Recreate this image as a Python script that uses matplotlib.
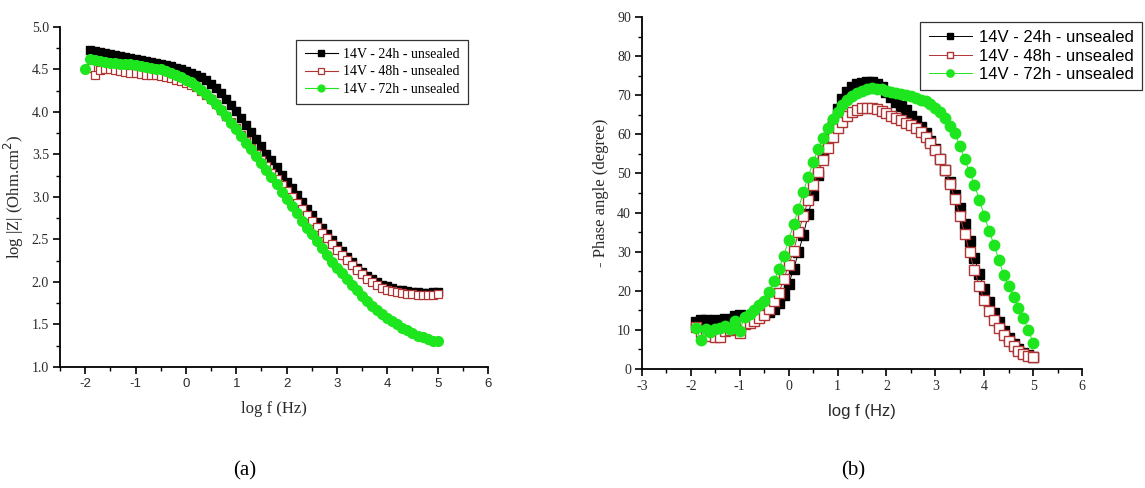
import matplotlib
matplotlib.use("Agg")
import matplotlib.pyplot as plt
from matplotlib.ticker import MultipleLocator, FormatStrFormatter

plt.rcParams["axes.unicode_minus"] = False

# measurement grid, log f (Hz)
log_f = [-1.9, -1.8, -1.7, -1.6, -1.5, -1.4, -1.3, -1.2, -1.1, -1.0,
         -0.9, -0.8, -0.7, -0.6, -0.5, -0.4, -0.3, -0.2, -0.1, 0.0,
         0.1, 0.2, 0.3, 0.4, 0.5, 0.6, 0.7, 0.8, 0.9, 1.0,
         1.1, 1.2, 1.3, 1.4, 1.5, 1.6, 1.7, 1.8, 1.9, 2.0,
         2.1, 2.2, 2.3, 2.4, 2.5, 2.6, 2.7, 2.8, 2.9, 3.0,
         3.1, 3.2, 3.3, 3.4, 3.5, 3.6, 3.7, 3.8, 3.9, 4.0,
         4.1, 4.2, 4.3, 4.4, 4.5, 4.6, 4.7, 4.8, 4.9, 5.0]
log_f_72h_z = [-2.0] + log_f

labels = ["14V - 24h - unsealed", "14V - 48h - unsealed", "14V - 72h - unsealed"]

# (a) log |Z|
z_24h = [4.73, 4.72, 4.70, 4.69, 4.68, 4.67, 4.66, 4.65, 4.63, 4.62,
         4.61, 4.60, 4.59, 4.58, 4.57, 4.55, 4.54, 4.52, 4.50, 4.48,
         4.46, 4.44, 4.41, 4.38, 4.33, 4.28, 4.22, 4.15, 4.08, 4.01,
         3.93, 3.85, 3.77, 3.68, 3.60, 3.51, 3.43, 3.35, 3.26, 3.18,
         3.10, 3.02, 2.94, 2.86, 2.79, 2.71, 2.64, 2.56, 2.49, 2.42,
         2.36, 2.29, 2.23, 2.17, 2.12, 2.07, 2.03, 2.00, 1.97, 1.95,
         1.93, 1.91, 1.90, 1.89, 1.88, 1.88, 1.87, 1.87, 1.88, 1.88]
z_48h = [4.52, 4.44, 4.49, 4.50, 4.50, 4.49, 4.48, 4.47, 4.46, 4.46,
         4.45, 4.44, 4.43, 4.43, 4.42, 4.41, 4.40, 4.38, 4.36, 4.34,
         4.32, 4.29, 4.25, 4.20, 4.15, 4.09, 4.02, 3.95, 3.88, 3.81,
         3.73, 3.66, 3.58, 3.51, 3.43, 3.36, 3.28, 3.21, 3.14, 3.07,
         3.00, 2.93, 2.86, 2.79, 2.72, 2.65, 2.58, 2.52, 2.45, 2.38,
         2.32, 2.26, 2.20, 2.14, 2.09, 2.04, 2.00, 1.96, 1.93, 1.91,
         1.89, 1.88, 1.87, 1.86, 1.86, 1.85, 1.85, 1.85, 1.85, 1.86]
z_72h = [4.50,
         4.62, 4.61, 4.60, 4.59, 4.58, 4.58, 4.57, 4.56, 4.56, 4.55,
         4.54, 4.53, 4.52, 4.51, 4.50, 4.48, 4.46, 4.44, 4.41, 4.38,
         4.35, 4.31, 4.26, 4.21, 4.15, 4.09, 4.02, 3.95, 3.87, 3.80,
         3.72, 3.64, 3.56, 3.48, 3.40, 3.32, 3.23, 3.15, 3.06, 2.98,
         2.89, 2.81, 2.72, 2.64, 2.56, 2.48, 2.40, 2.32, 2.24, 2.17,
         2.10, 2.03, 1.96, 1.90, 1.84, 1.78, 1.72, 1.67, 1.62, 1.58,
         1.54, 1.50, 1.46, 1.43, 1.40, 1.37, 1.35, 1.33, 1.31, 1.31]

# (b) - phase angle (degree)
ph_24h = [12.0, 12.6, 12.4, 12.0, 12.6, 12.2, 12.9, 12.5, 13.5, 13.8,
          13.2, 13.0, 13.3, 13.6, 14.0, 14.6, 15.3, 16.8, 19.0, 21.8,
          25.5, 29.8, 34.3, 39.5, 44.5, 49.5, 54.5, 59.0, 63.0, 66.5,
          69.0, 70.8, 72.0, 72.8, 73.2, 73.4, 73.3, 72.9, 72.0, 70.8,
          69.5, 68.3, 67.2, 66.2, 64.8, 63.3, 61.8, 60.3, 58.3, 56.3,
          53.8, 51.0, 47.8, 44.5, 41.2, 37.0, 32.8, 28.5, 24.3, 20.5,
          17.2, 14.3, 12.0, 9.8, 8.0, 6.5, 5.2, 4.2, 3.5, 3.0]
ph_48h = [10.8, 9.5, 8.6, 8.4, 8.2, 8.3, 9.8, 10.0, 10.2, 9.3,
          11.5, 11.8, 12.3, 13.0, 13.8, 15.3, 17.4, 19.5, 22.9, 26.6,
          30.2, 34.9, 39.2, 43.2, 47.0, 50.3, 53.5, 56.5, 59.2, 61.5,
          63.2, 64.6, 65.6, 66.3, 66.7, 66.8, 66.7, 66.4, 66.0, 65.4,
          64.8, 64.2, 63.6, 63.0, 62.4, 61.6, 60.6, 59.4, 57.9, 56.0,
          53.6, 50.8, 47.4, 43.5, 39.2, 34.6, 29.8, 25.2, 21.2, 17.6,
          14.8, 12.5, 10.4, 8.7, 7.1, 5.8, 4.7, 3.8, 3.3, 3.0]
ph_72h = [10.5, 7.3, 10.2, 9.5, 10.3, 10.5, 11.0, 10.3, 12.3, 9.8,
          13.3, 14.0, 15.0, 16.3, 17.5, 19.8, 22.5, 25.5, 29.0, 33.0,
          37.0, 41.0, 45.2, 49.2, 52.8, 56.2, 59.0, 61.7, 64.0, 65.8,
          67.4, 68.7, 69.8, 70.6, 71.2, 71.6, 71.8, 71.7, 71.5, 71.2,
          70.9, 70.6, 70.3, 70.0, 69.7, 69.3, 68.9, 68.5, 67.8, 66.8,
          65.6, 64.2, 62.2, 60.3, 57.0, 53.6, 50.4, 47.0, 43.3, 39.2,
          35.3, 31.7, 27.9, 24.0, 21.1, 18.5, 15.5, 13.0, 10.0, 6.7]

BLACK = "#000000"
RED = "#b03434"
GREEN = "#1ee61e"
SERIF = "Liberation Serif"
SANS = "Liberation Sans"
TXT = "#2a2a2a"


def style_axis(ax):
    ax.spines["top"].set_visible(False)
    ax.spines["right"].set_visible(False)
    ax.spines["left"].set_linewidth(1.3)
    ax.spines["bottom"].set_linewidth(1.3)
    ax.tick_params(which="major", direction="out", length=5, width=1.2, pad=3)
    ax.tick_params(which="minor", direction="out", length=3, width=1.0)


def set_ticklabels_font(labels_list, family, size):
    for t in labels_list:
        t.set_fontfamily(family)
        t.set_fontsize(size)
        t.set_color(TXT)


fig = plt.figure(figsize=(11.45, 4.88), dpi=100)

# ---- (a) Bode modulus ----
ax1 = fig.add_axes([0.0524, 0.248, 0.3738, 0.6967])
ax1.plot(log_f, z_24h, "-", color=BLACK, lw=0.8, marker="s", ms=6,
         mfc=BLACK, mec=BLACK, label=labels[0])
ax1.plot(log_f, z_48h, "-", color=RED, lw=0.8, marker="s", ms=6,
         mfc="white", mec=RED, mew=0.9, label=labels[1])
ax1.plot(log_f_72h_z, z_72h, "-", color=GREEN, lw=0.8, marker="o", ms=7,
         mfc=GREEN, mec=GREEN, label=labels[2])
ax1.set_xlim(-2.5, 6)
ax1.set_ylim(1.0, 5.0)
ax1.xaxis.set_major_locator(MultipleLocator(1))
ax1.xaxis.set_minor_locator(MultipleLocator(0.5))
ax1.yaxis.set_major_locator(MultipleLocator(0.5))
ax1.yaxis.set_minor_locator(MultipleLocator(0.25))
ax1.yaxis.set_major_formatter(FormatStrFormatter("%.1f"))
style_axis(ax1)
set_ticklabels_font(ax1.get_xticklabels(), SANS, 9.5)
set_ticklabels_font(ax1.get_yticklabels(), SERIF, 10)
ax1.set_xlabel("log f (Hz)", fontfamily=SERIF, fontsize=12, color=TXT, labelpad=8)
ax1.set_ylabel("log |Z| (Ohm.cm$^2$)", fontfamily=SERIF, fontsize=12, color=TXT, labelpad=4)
leg1 = ax1.legend(loc="upper right", bbox_to_anchor=(0.953, 0.962), borderaxespad=0,
                  prop={"family": SERIF, "size": 10},
                  frameon=True, fancybox=False, edgecolor="#333333", framealpha=1,
                  handlelength=2.4, handletextpad=0.35, borderpad=0.6, labelspacing=0.3,
                  markerscale=0.7)
leg1.get_frame().set_linewidth(0.9)

# ---- (b) Bode phase ----
ax2 = fig.add_axes([0.5607, 0.2439, 0.3843, 0.7213])
ax2.plot(log_f, ph_24h, "-", color=BLACK, lw=0.7, marker="s", ms=7,
         mfc=BLACK, mec=BLACK, label=labels[0])
ax2.plot(log_f, ph_48h, "-", color=RED, lw=0.7, marker="s", ms=7,
         mfc="white", mec=RED, mew=1.0, label=labels[1])
ax2.plot(log_f, ph_72h, "-", color=GREEN, lw=0.7, marker="o", ms=7.5,
         mfc=GREEN, mec=GREEN, label=labels[2])
ax2.set_xlim(-3, 6)
ax2.set_ylim(0, 90)
ax2.xaxis.set_major_locator(MultipleLocator(1))
ax2.xaxis.set_minor_locator(MultipleLocator(0.5))
ax2.yaxis.set_major_locator(MultipleLocator(10))
ax2.yaxis.set_minor_locator(MultipleLocator(5))
style_axis(ax2)
set_ticklabels_font(ax2.get_xticklabels() + ax2.get_yticklabels(), SERIF, 10)
ax2.set_xlabel("log f (Hz)", fontfamily=SANS, fontsize=12, color=TXT, labelpad=8)
ax2.set_ylabel("- Phase angle (degree)", fontfamily=SERIF, fontsize=12, color=TXT, labelpad=6)
leg2 = ax2.legend(loc="upper right", bbox_to_anchor=(1.136, 0.986), borderaxespad=0,
                  prop={"family": SANS, "size": 12},
                  frameon=True, fancybox=False, edgecolor="#333333", framealpha=1,
                  handlelength=2.6, handletextpad=0.4, borderpad=0.5, labelspacing=0.2,
                  markerscale=0.7)
leg2.get_frame().set_linewidth(0.9)

fig.text(0.2140, 0.035, "(a)", ha="center", va="center", fontfamily=SERIF, fontsize=15)
fig.text(0.7450, 0.035, "(b)", ha="center", va="center", fontfamily=SERIF, fontsize=15)

fig.savefig("out.png", dpi=100)
